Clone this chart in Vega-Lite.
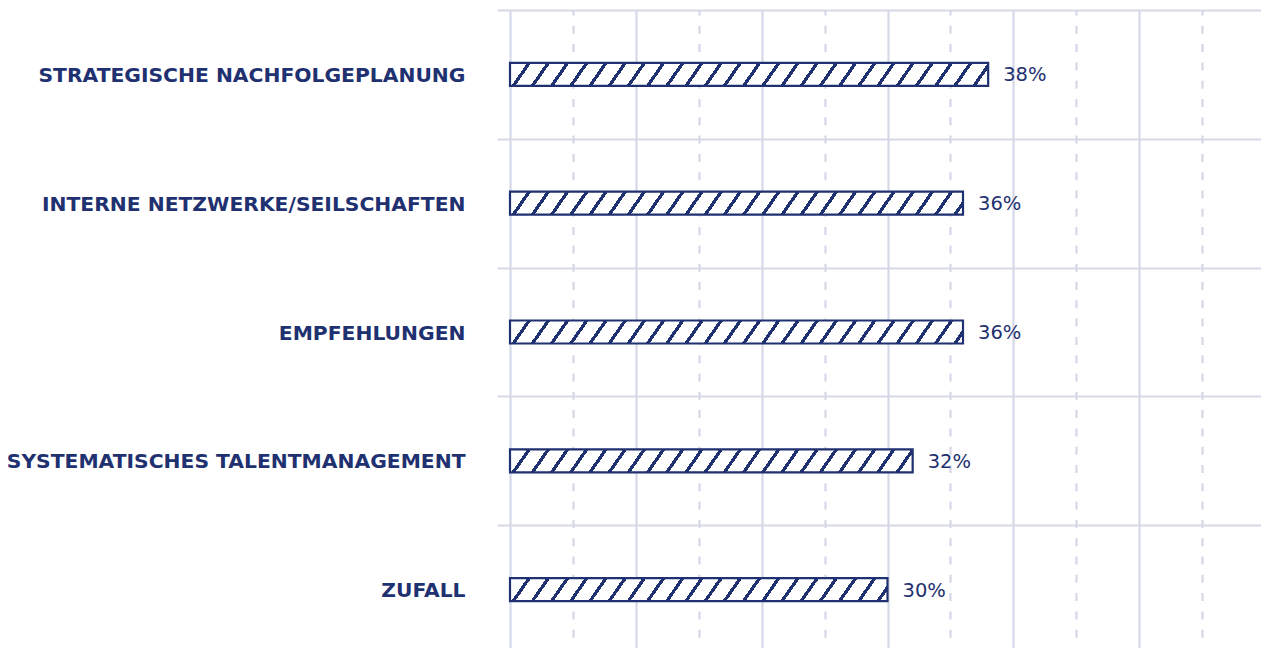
{
  "$schema": "https://vega.github.io/schema/vega-lite/v6.json",
  "width": 751,
  "height": 638,
  "autosize": {"type": "none"},
  "padding": {"left": 510, "top": 10, "right": 0, "bottom": 0},
  "background": "white",
  "config": {"view": {"stroke": null}},
  "data": {"values": [
    {"cat": "STRATEGISCHE NACHFOLGEPLANUNG", "pct": 38, "label": "38%"},
    {"cat": "INTERNE NETZWERKE/SEILSCHAFTEN", "pct": 36, "label": "36%"},
    {"cat": "EMPFEHLUNGEN", "pct": 36, "label": "36%"},
    {"cat": "SYSTEMATISCHES TALENTMANAGEMENT", "pct": 32, "label": "32%"},
    {"cat": "ZUFALL", "pct": 30, "label": "30%"}
  ]},
  "encoding": {
    "y": {
      "field": "cat", "type": "nominal", "sort": null,
      "scale": {"range": [0, 644], "paddingInner": 0, "paddingOuter": 0},
      "axis": {
        "title": null, "domain": false, "tickBand": "extent", "ticks": true, "tickSize": 13, "tickWidth": 2,
        "tickColor": "#d5d8e7", "grid": true, "gridColor": "#d5d8e7", "gridWidth": 2,
        "labelPadding": 32, "labelFont": "DejaVu Sans", "labelFontWeight": "bold", "labelFontSize": 20.3,
        "labelColor": "#1f3170", "labelLimit": 0, "labelOffset": 1
      }
    },
    "x": {
      "field": "pct", "type": "quantitative",
      "scale": {"domain": [0, 60], "range": [0, 755], "nice": false},
      "axis": {
        "orient": "top", "title": null, "domain": false, "ticks": false, "labels": false, "grid": true,
        "values": [0, 5, 10, 15, 20, 25, 30, 35, 40, 45, 50, 55, 60],
        "gridColor": "#d5d8e7", "gridWidth": 2.2,
        "gridDash": {"condition": {"test": "datum.value % 10 !== 0", "value": [8, 10.3]}, "value": []},
        "gridDashOffset": 3
      }
    }
  },
  "layer": [
    {
      "mark": {"type": "bar", "size": 23, "stroke": "#1f3170", "strokeWidth": 2.2, "orient": "horizontal"},
      "encoding": {
        "fill": {
          "condition": [
            {"test": "datum.pct === 38", "value": {"gradient": "linear", "x1": 0, "y1": 0, "x2": 1.04275, "y2": 0.03489, "stops": [
              {"offset": 0, "color": "#1f3170"}, {"offset": 0.004, "color": "#1f3170"}, {"offset": 0.004, "color": "#fff"},
              {"offset": 0.0345, "color": "#fff"}, {"offset": 0.0345, "color": "#1f3170"}, {"offset": 0.0425, "color": "#1f3170"}, {"offset": 0.0425, "color": "#fff"},
              {"offset": 0.0729, "color": "#fff"}, {"offset": 0.0729, "color": "#1f3170"}, {"offset": 0.0809, "color": "#1f3170"}, {"offset": 0.0809, "color": "#fff"},
              {"offset": 0.1114, "color": "#fff"}, {"offset": 0.1114, "color": "#1f3170"}, {"offset": 0.1194, "color": "#1f3170"}, {"offset": 0.1194, "color": "#fff"},
              {"offset": 0.1498, "color": "#fff"}, {"offset": 0.1498, "color": "#1f3170"}, {"offset": 0.1578, "color": "#1f3170"}, {"offset": 0.1578, "color": "#fff"},
              {"offset": 0.1883, "color": "#fff"}, {"offset": 0.1883, "color": "#1f3170"}, {"offset": 0.1963, "color": "#1f3170"}, {"offset": 0.1963, "color": "#fff"},
              {"offset": 0.2268, "color": "#fff"}, {"offset": 0.2268, "color": "#1f3170"}, {"offset": 0.2348, "color": "#1f3170"}, {"offset": 0.2348, "color": "#fff"},
              {"offset": 0.2652, "color": "#fff"}, {"offset": 0.2652, "color": "#1f3170"}, {"offset": 0.2732, "color": "#1f3170"}, {"offset": 0.2732, "color": "#fff"},
              {"offset": 0.3037, "color": "#fff"}, {"offset": 0.3037, "color": "#1f3170"}, {"offset": 0.3117, "color": "#1f3170"}, {"offset": 0.3117, "color": "#fff"},
              {"offset": 0.3422, "color": "#fff"}, {"offset": 0.3422, "color": "#1f3170"}, {"offset": 0.3502, "color": "#1f3170"}, {"offset": 0.3502, "color": "#fff"},
              {"offset": 0.3806, "color": "#fff"}, {"offset": 0.3806, "color": "#1f3170"}, {"offset": 0.3886, "color": "#1f3170"}, {"offset": 0.3886, "color": "#fff"},
              {"offset": 0.4191, "color": "#fff"}, {"offset": 0.4191, "color": "#1f3170"}, {"offset": 0.4271, "color": "#1f3170"}, {"offset": 0.4271, "color": "#fff"},
              {"offset": 0.4575, "color": "#fff"}, {"offset": 0.4575, "color": "#1f3170"}, {"offset": 0.4655, "color": "#1f3170"}, {"offset": 0.4655, "color": "#fff"},
              {"offset": 0.4960, "color": "#fff"}, {"offset": 0.4960, "color": "#1f3170"}, {"offset": 0.5040, "color": "#1f3170"}, {"offset": 0.5040, "color": "#fff"},
              {"offset": 0.5345, "color": "#fff"}, {"offset": 0.5345, "color": "#1f3170"}, {"offset": 0.5425, "color": "#1f3170"}, {"offset": 0.5425, "color": "#fff"},
              {"offset": 0.5729, "color": "#fff"}, {"offset": 0.5729, "color": "#1f3170"}, {"offset": 0.5809, "color": "#1f3170"}, {"offset": 0.5809, "color": "#fff"},
              {"offset": 0.6114, "color": "#fff"}, {"offset": 0.6114, "color": "#1f3170"}, {"offset": 0.6194, "color": "#1f3170"}, {"offset": 0.6194, "color": "#fff"},
              {"offset": 0.6498, "color": "#fff"}, {"offset": 0.6498, "color": "#1f3170"}, {"offset": 0.6578, "color": "#1f3170"}, {"offset": 0.6578, "color": "#fff"},
              {"offset": 0.6883, "color": "#fff"}, {"offset": 0.6883, "color": "#1f3170"}, {"offset": 0.6963, "color": "#1f3170"}, {"offset": 0.6963, "color": "#fff"},
              {"offset": 0.7268, "color": "#fff"}, {"offset": 0.7268, "color": "#1f3170"}, {"offset": 0.7348, "color": "#1f3170"}, {"offset": 0.7348, "color": "#fff"},
              {"offset": 0.7652, "color": "#fff"}, {"offset": 0.7652, "color": "#1f3170"}, {"offset": 0.7732, "color": "#1f3170"}, {"offset": 0.7732, "color": "#fff"},
              {"offset": 0.8037, "color": "#fff"}, {"offset": 0.8037, "color": "#1f3170"}, {"offset": 0.8117, "color": "#1f3170"}, {"offset": 0.8117, "color": "#fff"},
              {"offset": 0.8422, "color": "#fff"}, {"offset": 0.8422, "color": "#1f3170"}, {"offset": 0.8502, "color": "#1f3170"}, {"offset": 0.8502, "color": "#fff"},
              {"offset": 0.8806, "color": "#fff"}, {"offset": 0.8806, "color": "#1f3170"}, {"offset": 0.8886, "color": "#1f3170"}, {"offset": 0.8886, "color": "#fff"},
              {"offset": 0.9191, "color": "#fff"}, {"offset": 0.9191, "color": "#1f3170"}, {"offset": 0.9271, "color": "#1f3170"}, {"offset": 0.9271, "color": "#fff"},
              {"offset": 0.9575, "color": "#fff"}, {"offset": 0.9575, "color": "#1f3170"}, {"offset": 0.9655, "color": "#1f3170"}, {"offset": 0.9655, "color": "#fff"},
              {"offset": 1, "color": "#fff"}
            ]}},
            {"test": "datum.pct === 32", "value": {"gradient": "linear", "x1": 0, "y1": 0, "x2": 1.23777, "y2": 0.04918, "stops": [
              {"offset": 0, "color": "#1f3170"}, {"offset": 0.004, "color": "#1f3170"}, {"offset": 0.004, "color": "#fff"},
              {"offset": 0.0345, "color": "#fff"}, {"offset": 0.0345, "color": "#1f3170"}, {"offset": 0.0425, "color": "#1f3170"}, {"offset": 0.0425, "color": "#fff"},
              {"offset": 0.0729, "color": "#fff"}, {"offset": 0.0729, "color": "#1f3170"}, {"offset": 0.0809, "color": "#1f3170"}, {"offset": 0.0809, "color": "#fff"},
              {"offset": 0.1114, "color": "#fff"}, {"offset": 0.1114, "color": "#1f3170"}, {"offset": 0.1194, "color": "#1f3170"}, {"offset": 0.1194, "color": "#fff"},
              {"offset": 0.1498, "color": "#fff"}, {"offset": 0.1498, "color": "#1f3170"}, {"offset": 0.1578, "color": "#1f3170"}, {"offset": 0.1578, "color": "#fff"},
              {"offset": 0.1883, "color": "#fff"}, {"offset": 0.1883, "color": "#1f3170"}, {"offset": 0.1963, "color": "#1f3170"}, {"offset": 0.1963, "color": "#fff"},
              {"offset": 0.2268, "color": "#fff"}, {"offset": 0.2268, "color": "#1f3170"}, {"offset": 0.2348, "color": "#1f3170"}, {"offset": 0.2348, "color": "#fff"},
              {"offset": 0.2652, "color": "#fff"}, {"offset": 0.2652, "color": "#1f3170"}, {"offset": 0.2732, "color": "#1f3170"}, {"offset": 0.2732, "color": "#fff"},
              {"offset": 0.3037, "color": "#fff"}, {"offset": 0.3037, "color": "#1f3170"}, {"offset": 0.3117, "color": "#1f3170"}, {"offset": 0.3117, "color": "#fff"},
              {"offset": 0.3422, "color": "#fff"}, {"offset": 0.3422, "color": "#1f3170"}, {"offset": 0.3502, "color": "#1f3170"}, {"offset": 0.3502, "color": "#fff"},
              {"offset": 0.3806, "color": "#fff"}, {"offset": 0.3806, "color": "#1f3170"}, {"offset": 0.3886, "color": "#1f3170"}, {"offset": 0.3886, "color": "#fff"},
              {"offset": 0.4191, "color": "#fff"}, {"offset": 0.4191, "color": "#1f3170"}, {"offset": 0.4271, "color": "#1f3170"}, {"offset": 0.4271, "color": "#fff"},
              {"offset": 0.4575, "color": "#fff"}, {"offset": 0.4575, "color": "#1f3170"}, {"offset": 0.4655, "color": "#1f3170"}, {"offset": 0.4655, "color": "#fff"},
              {"offset": 0.4960, "color": "#fff"}, {"offset": 0.4960, "color": "#1f3170"}, {"offset": 0.5040, "color": "#1f3170"}, {"offset": 0.5040, "color": "#fff"},
              {"offset": 0.5345, "color": "#fff"}, {"offset": 0.5345, "color": "#1f3170"}, {"offset": 0.5425, "color": "#1f3170"}, {"offset": 0.5425, "color": "#fff"},
              {"offset": 0.5729, "color": "#fff"}, {"offset": 0.5729, "color": "#1f3170"}, {"offset": 0.5809, "color": "#1f3170"}, {"offset": 0.5809, "color": "#fff"},
              {"offset": 0.6114, "color": "#fff"}, {"offset": 0.6114, "color": "#1f3170"}, {"offset": 0.6194, "color": "#1f3170"}, {"offset": 0.6194, "color": "#fff"},
              {"offset": 0.6498, "color": "#fff"}, {"offset": 0.6498, "color": "#1f3170"}, {"offset": 0.6578, "color": "#1f3170"}, {"offset": 0.6578, "color": "#fff"},
              {"offset": 0.6883, "color": "#fff"}, {"offset": 0.6883, "color": "#1f3170"}, {"offset": 0.6963, "color": "#1f3170"}, {"offset": 0.6963, "color": "#fff"},
              {"offset": 0.7268, "color": "#fff"}, {"offset": 0.7268, "color": "#1f3170"}, {"offset": 0.7348, "color": "#1f3170"}, {"offset": 0.7348, "color": "#fff"},
              {"offset": 0.7652, "color": "#fff"}, {"offset": 0.7652, "color": "#1f3170"}, {"offset": 0.7732, "color": "#1f3170"}, {"offset": 0.7732, "color": "#fff"},
              {"offset": 0.8037, "color": "#fff"}, {"offset": 0.8037, "color": "#1f3170"}, {"offset": 0.8117, "color": "#1f3170"}, {"offset": 0.8117, "color": "#fff"},
              {"offset": 0.8422, "color": "#fff"}, {"offset": 0.8422, "color": "#1f3170"}, {"offset": 0.8502, "color": "#1f3170"}, {"offset": 0.8502, "color": "#fff"},
              {"offset": 0.8806, "color": "#fff"}, {"offset": 0.8806, "color": "#1f3170"}, {"offset": 0.8886, "color": "#1f3170"}, {"offset": 0.8886, "color": "#fff"},
              {"offset": 0.9191, "color": "#fff"}, {"offset": 0.9191, "color": "#1f3170"}, {"offset": 0.9271, "color": "#1f3170"}, {"offset": 0.9271, "color": "#fff"},
              {"offset": 0.9575, "color": "#fff"}, {"offset": 0.9575, "color": "#1f3170"}, {"offset": 0.9655, "color": "#1f3170"}, {"offset": 0.9655, "color": "#fff"},
              {"offset": 1, "color": "#fff"}
            ]}},
            {"test": "datum.pct === 30", "value": {"gradient": "linear", "x1": 0, "y1": 0, "x2": 1.32002, "y2": 0.05595, "stops": [
              {"offset": 0, "color": "#1f3170"}, {"offset": 0.004, "color": "#1f3170"}, {"offset": 0.004, "color": "#fff"},
              {"offset": 0.0345, "color": "#fff"}, {"offset": 0.0345, "color": "#1f3170"}, {"offset": 0.0425, "color": "#1f3170"}, {"offset": 0.0425, "color": "#fff"},
              {"offset": 0.0729, "color": "#fff"}, {"offset": 0.0729, "color": "#1f3170"}, {"offset": 0.0809, "color": "#1f3170"}, {"offset": 0.0809, "color": "#fff"},
              {"offset": 0.1114, "color": "#fff"}, {"offset": 0.1114, "color": "#1f3170"}, {"offset": 0.1194, "color": "#1f3170"}, {"offset": 0.1194, "color": "#fff"},
              {"offset": 0.1498, "color": "#fff"}, {"offset": 0.1498, "color": "#1f3170"}, {"offset": 0.1578, "color": "#1f3170"}, {"offset": 0.1578, "color": "#fff"},
              {"offset": 0.1883, "color": "#fff"}, {"offset": 0.1883, "color": "#1f3170"}, {"offset": 0.1963, "color": "#1f3170"}, {"offset": 0.1963, "color": "#fff"},
              {"offset": 0.2268, "color": "#fff"}, {"offset": 0.2268, "color": "#1f3170"}, {"offset": 0.2348, "color": "#1f3170"}, {"offset": 0.2348, "color": "#fff"},
              {"offset": 0.2652, "color": "#fff"}, {"offset": 0.2652, "color": "#1f3170"}, {"offset": 0.2732, "color": "#1f3170"}, {"offset": 0.2732, "color": "#fff"},
              {"offset": 0.3037, "color": "#fff"}, {"offset": 0.3037, "color": "#1f3170"}, {"offset": 0.3117, "color": "#1f3170"}, {"offset": 0.3117, "color": "#fff"},
              {"offset": 0.3422, "color": "#fff"}, {"offset": 0.3422, "color": "#1f3170"}, {"offset": 0.3502, "color": "#1f3170"}, {"offset": 0.3502, "color": "#fff"},
              {"offset": 0.3806, "color": "#fff"}, {"offset": 0.3806, "color": "#1f3170"}, {"offset": 0.3886, "color": "#1f3170"}, {"offset": 0.3886, "color": "#fff"},
              {"offset": 0.4191, "color": "#fff"}, {"offset": 0.4191, "color": "#1f3170"}, {"offset": 0.4271, "color": "#1f3170"}, {"offset": 0.4271, "color": "#fff"},
              {"offset": 0.4575, "color": "#fff"}, {"offset": 0.4575, "color": "#1f3170"}, {"offset": 0.4655, "color": "#1f3170"}, {"offset": 0.4655, "color": "#fff"},
              {"offset": 0.4960, "color": "#fff"}, {"offset": 0.4960, "color": "#1f3170"}, {"offset": 0.5040, "color": "#1f3170"}, {"offset": 0.5040, "color": "#fff"},
              {"offset": 0.5345, "color": "#fff"}, {"offset": 0.5345, "color": "#1f3170"}, {"offset": 0.5425, "color": "#1f3170"}, {"offset": 0.5425, "color": "#fff"},
              {"offset": 0.5729, "color": "#fff"}, {"offset": 0.5729, "color": "#1f3170"}, {"offset": 0.5809, "color": "#1f3170"}, {"offset": 0.5809, "color": "#fff"},
              {"offset": 0.6114, "color": "#fff"}, {"offset": 0.6114, "color": "#1f3170"}, {"offset": 0.6194, "color": "#1f3170"}, {"offset": 0.6194, "color": "#fff"},
              {"offset": 0.6498, "color": "#fff"}, {"offset": 0.6498, "color": "#1f3170"}, {"offset": 0.6578, "color": "#1f3170"}, {"offset": 0.6578, "color": "#fff"},
              {"offset": 0.6883, "color": "#fff"}, {"offset": 0.6883, "color": "#1f3170"}, {"offset": 0.6963, "color": "#1f3170"}, {"offset": 0.6963, "color": "#fff"},
              {"offset": 0.7268, "color": "#fff"}, {"offset": 0.7268, "color": "#1f3170"}, {"offset": 0.7348, "color": "#1f3170"}, {"offset": 0.7348, "color": "#fff"},
              {"offset": 0.7652, "color": "#fff"}, {"offset": 0.7652, "color": "#1f3170"}, {"offset": 0.7732, "color": "#1f3170"}, {"offset": 0.7732, "color": "#fff"},
              {"offset": 0.8037, "color": "#fff"}, {"offset": 0.8037, "color": "#1f3170"}, {"offset": 0.8117, "color": "#1f3170"}, {"offset": 0.8117, "color": "#fff"},
              {"offset": 0.8422, "color": "#fff"}, {"offset": 0.8422, "color": "#1f3170"}, {"offset": 0.8502, "color": "#1f3170"}, {"offset": 0.8502, "color": "#fff"},
              {"offset": 0.8806, "color": "#fff"}, {"offset": 0.8806, "color": "#1f3170"}, {"offset": 0.8886, "color": "#1f3170"}, {"offset": 0.8886, "color": "#fff"},
              {"offset": 0.9191, "color": "#fff"}, {"offset": 0.9191, "color": "#1f3170"}, {"offset": 0.9271, "color": "#1f3170"}, {"offset": 0.9271, "color": "#fff"},
              {"offset": 0.9575, "color": "#fff"}, {"offset": 0.9575, "color": "#1f3170"}, {"offset": 0.9655, "color": "#1f3170"}, {"offset": 0.9655, "color": "#fff"},
              {"offset": 1, "color": "#fff"}
            ]}}
          ],
          "value": {"gradient": "linear", "x1": 0, "y1": 0, "x2": 1.10061, "y2": 0.03887, "stops": [
              {"offset": 0, "color": "#1f3170"}, {"offset": 0.004, "color": "#1f3170"}, {"offset": 0.004, "color": "#fff"},
              {"offset": 0.0345, "color": "#fff"}, {"offset": 0.0345, "color": "#1f3170"}, {"offset": 0.0425, "color": "#1f3170"}, {"offset": 0.0425, "color": "#fff"},
              {"offset": 0.0729, "color": "#fff"}, {"offset": 0.0729, "color": "#1f3170"}, {"offset": 0.0809, "color": "#1f3170"}, {"offset": 0.0809, "color": "#fff"},
              {"offset": 0.1114, "color": "#fff"}, {"offset": 0.1114, "color": "#1f3170"}, {"offset": 0.1194, "color": "#1f3170"}, {"offset": 0.1194, "color": "#fff"},
              {"offset": 0.1498, "color": "#fff"}, {"offset": 0.1498, "color": "#1f3170"}, {"offset": 0.1578, "color": "#1f3170"}, {"offset": 0.1578, "color": "#fff"},
              {"offset": 0.1883, "color": "#fff"}, {"offset": 0.1883, "color": "#1f3170"}, {"offset": 0.1963, "color": "#1f3170"}, {"offset": 0.1963, "color": "#fff"},
              {"offset": 0.2268, "color": "#fff"}, {"offset": 0.2268, "color": "#1f3170"}, {"offset": 0.2348, "color": "#1f3170"}, {"offset": 0.2348, "color": "#fff"},
              {"offset": 0.2652, "color": "#fff"}, {"offset": 0.2652, "color": "#1f3170"}, {"offset": 0.2732, "color": "#1f3170"}, {"offset": 0.2732, "color": "#fff"},
              {"offset": 0.3037, "color": "#fff"}, {"offset": 0.3037, "color": "#1f3170"}, {"offset": 0.3117, "color": "#1f3170"}, {"offset": 0.3117, "color": "#fff"},
              {"offset": 0.3422, "color": "#fff"}, {"offset": 0.3422, "color": "#1f3170"}, {"offset": 0.3502, "color": "#1f3170"}, {"offset": 0.3502, "color": "#fff"},
              {"offset": 0.3806, "color": "#fff"}, {"offset": 0.3806, "color": "#1f3170"}, {"offset": 0.3886, "color": "#1f3170"}, {"offset": 0.3886, "color": "#fff"},
              {"offset": 0.4191, "color": "#fff"}, {"offset": 0.4191, "color": "#1f3170"}, {"offset": 0.4271, "color": "#1f3170"}, {"offset": 0.4271, "color": "#fff"},
              {"offset": 0.4575, "color": "#fff"}, {"offset": 0.4575, "color": "#1f3170"}, {"offset": 0.4655, "color": "#1f3170"}, {"offset": 0.4655, "color": "#fff"},
              {"offset": 0.4960, "color": "#fff"}, {"offset": 0.4960, "color": "#1f3170"}, {"offset": 0.5040, "color": "#1f3170"}, {"offset": 0.5040, "color": "#fff"},
              {"offset": 0.5345, "color": "#fff"}, {"offset": 0.5345, "color": "#1f3170"}, {"offset": 0.5425, "color": "#1f3170"}, {"offset": 0.5425, "color": "#fff"},
              {"offset": 0.5729, "color": "#fff"}, {"offset": 0.5729, "color": "#1f3170"}, {"offset": 0.5809, "color": "#1f3170"}, {"offset": 0.5809, "color": "#fff"},
              {"offset": 0.6114, "color": "#fff"}, {"offset": 0.6114, "color": "#1f3170"}, {"offset": 0.6194, "color": "#1f3170"}, {"offset": 0.6194, "color": "#fff"},
              {"offset": 0.6498, "color": "#fff"}, {"offset": 0.6498, "color": "#1f3170"}, {"offset": 0.6578, "color": "#1f3170"}, {"offset": 0.6578, "color": "#fff"},
              {"offset": 0.6883, "color": "#fff"}, {"offset": 0.6883, "color": "#1f3170"}, {"offset": 0.6963, "color": "#1f3170"}, {"offset": 0.6963, "color": "#fff"},
              {"offset": 0.7268, "color": "#fff"}, {"offset": 0.7268, "color": "#1f3170"}, {"offset": 0.7348, "color": "#1f3170"}, {"offset": 0.7348, "color": "#fff"},
              {"offset": 0.7652, "color": "#fff"}, {"offset": 0.7652, "color": "#1f3170"}, {"offset": 0.7732, "color": "#1f3170"}, {"offset": 0.7732, "color": "#fff"},
              {"offset": 0.8037, "color": "#fff"}, {"offset": 0.8037, "color": "#1f3170"}, {"offset": 0.8117, "color": "#1f3170"}, {"offset": 0.8117, "color": "#fff"},
              {"offset": 0.8422, "color": "#fff"}, {"offset": 0.8422, "color": "#1f3170"}, {"offset": 0.8502, "color": "#1f3170"}, {"offset": 0.8502, "color": "#fff"},
              {"offset": 0.8806, "color": "#fff"}, {"offset": 0.8806, "color": "#1f3170"}, {"offset": 0.8886, "color": "#1f3170"}, {"offset": 0.8886, "color": "#fff"},
              {"offset": 0.9191, "color": "#fff"}, {"offset": 0.9191, "color": "#1f3170"}, {"offset": 0.9271, "color": "#1f3170"}, {"offset": 0.9271, "color": "#fff"},
              {"offset": 0.9575, "color": "#fff"}, {"offset": 0.9575, "color": "#1f3170"}, {"offset": 0.9655, "color": "#1f3170"}, {"offset": 0.9655, "color": "#fff"},
              {"offset": 1, "color": "#fff"}
          ]}
        }
      }
    },
    {
      "mark": {"type": "text", "align": "left", "baseline": "middle", "dx": 15, "dy": 1, "font": "DejaVu Sans", "fontSize": 19.5, "color": "#1f3170"},
      "encoding": {"text": {"field": "label"}}
    }
  ]
}
